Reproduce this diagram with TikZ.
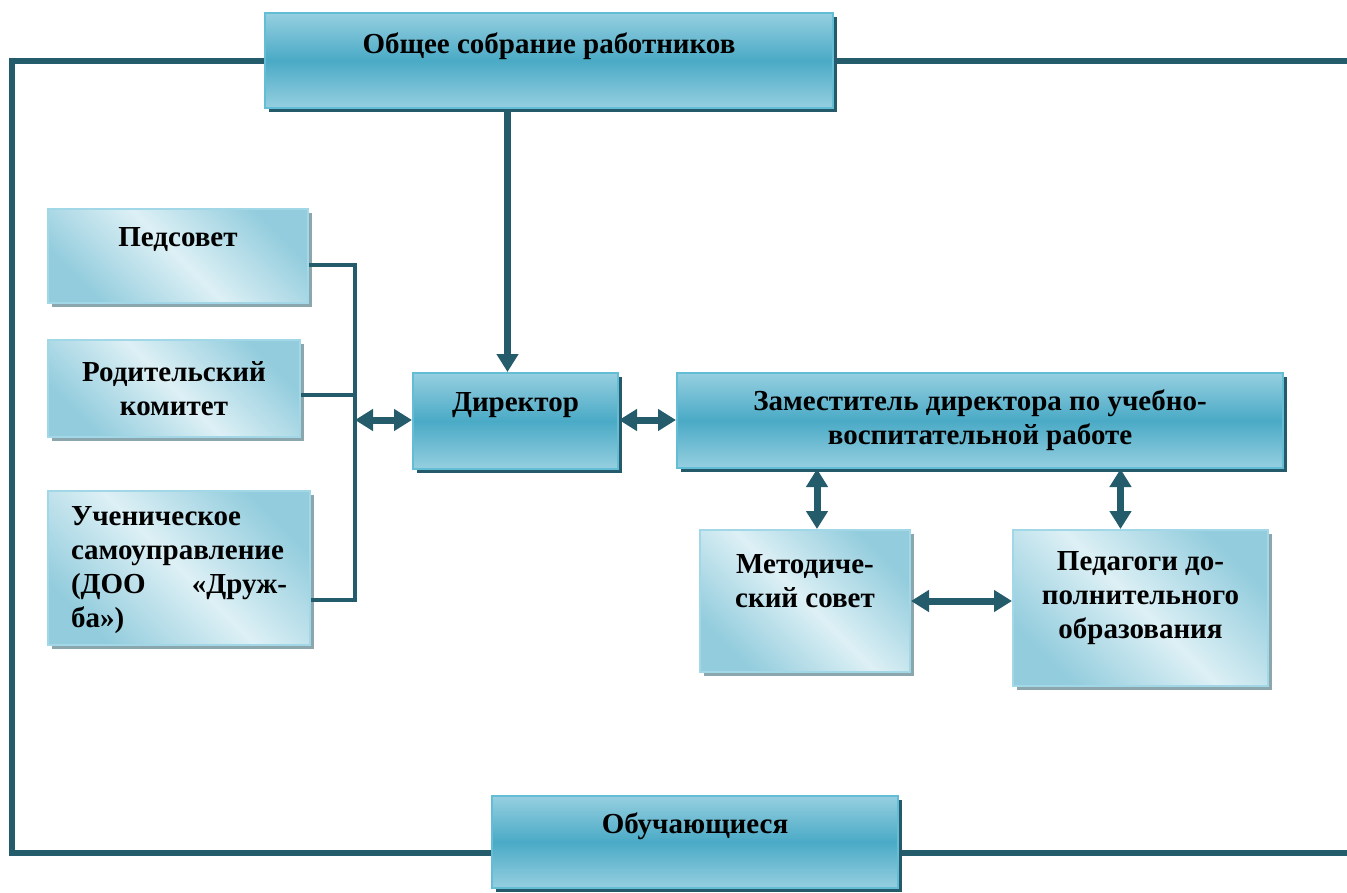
\documentclass[tikz,border=0pt]{standalone}
\usepackage{fontspec}
\setmainfont{Liberation Serif}
\usetikzlibrary{arrows.meta,positioning,shadows,calc}
\definecolor{lnk}{HTML}{245C6B}
\definecolor{dkA}{HTML}{96CFE0}
\definecolor{dkB}{HTML}{4AAAC6}
\definecolor{ltA}{HTML}{DDF0F5}
\definecolor{ltB}{HTML}{92CCDD}
\definecolor{rim}{HTML}{62BDD5}
\definecolor{shdk}{HTML}{245A6A}
\definecolor{shlt}{HTML}{8CA6AD}

\begin{document}
\begin{tikzpicture}[x=1pt,y=-1pt,>={Triangle[length=18pt,width=21pt]},
  dark/.style={draw=rim,line width=2pt,top color=dkA,bottom color=dkA,middle color=dkB,general shadow={fill=shdk,shadow xshift=4pt,shadow yshift=-4pt}},
  light/.style={draw=rim!60,line width=2pt,top color=ltB,bottom color=ltB,middle color=ltA,shading angle=-45,general shadow={fill=shlt,shadow xshift=4pt,shadow yshift=-4pt}},
  txt/.style={font=\fontsize{29}{34}\selectfont\bfseries,align=center,inner sep=0pt},
  frame/.style={draw=lnk,line width=6pt},
  link/.style={draw=lnk,line width=3.5pt},
  arr/.style={draw=lnk,line width=6.5pt,->},
  dbl/.style={draw=lnk,line width=7pt,<->}]
  \useasboundingbox (0,0) rectangle (1347,892);
  % outer frame
  \coordinate (fl) at (12,853);
  \coordinate (fr1) at (1347,60.5);
  \coordinate (fr2) at (1347,853);
  \node[dark,minimum width=568pt,minimum height=95pt] (sobr) at (549,60.5) {};
  \node[dark,minimum width=406pt,minimum height=92pt] (obu) at (695,842) {};
  \draw[frame] (sobr.west) -| (fl) -- ([yshift=-11pt]obu.west);
  \draw[frame] (sobr.east) -- (fr1);
  \draw[frame] ([yshift=-11pt]obu.east) -- (fr2);
  \node[dark,minimum width=568pt,minimum height=95pt] (sobr) at (549,60.5) {};
  \node[dark,minimum width=406pt,minimum height=92pt] (obu) at (695,842) {};
  \node[txt] (sobr-t) at ([yshift=14pt]sobr.center) {Общее собрание работников};
  \node[txt] (obu-t) at ([yshift=16pt]obu.center) {Обучающиеся};
  % left column
  \node[light,minimum width=260pt,minimum height=94pt] (peds) at (178,256) {};
  \node[light,minimum width=252pt,minimum height=97pt] (rod) at (174,388.5) {};
  \node[light,minimum width=262pt,minimum height=154pt] (uch) at (179,568) {};
  \node[txt] (peds-t) at ([yshift=16pt]peds.center) {Педсовет};
  \node[txt] (rod-t) at (rod.center) {Родительский\\комитет};
  \node[txt,align=left,text width=216pt] (uch-t) at ([yshift=-2pt]uch.center) {Ученическое\\самоуправление\\(ДОО \hfill «Друж-\\ба»)};
  % middle row
  \node[dark,minimum width=205pt,minimum height=96pt] (dir) at (515.5,421) {};
  \node[dark,minimum width=606pt,minimum height=95pt] (zam) at (980,420.5) {};
  \node[txt] (dir-t) at ([yshift=16pt]dir.center) {Директор};
  \node[txt] (zam-t) at (zam.center) {Заместитель директора по учебно-\\воспитательной работе};
  % lower right
  \node[light,minimum width=210pt,minimum height=142pt] (met) at (805,601) {};
  \node[light,minimum width=255pt,minimum height=156pt] (pdo) at (1140.5,608) {};
  \node[txt] (met-t) at ([yshift=20pt]met.center) {Методиче-\\ский совет};
  \node[txt] (pdo-t) at ([yshift=10pt]pdo.center) {Педагоги до-\\полнительного\\образования};
  % connectors
  \coordinate (bus) at (355,420);
  \coordinate (ds) at ([xshift=-8pt]dir.north);
  \coordinate (m1) at ([xshift=12pt]met.north);
  \coordinate (p1) at ([xshift=-20pt]pdo.north);
  \draw[arr] (sobr.south -| ds) -- (ds);
  \draw[link] ([yshift=-9pt]peds.east) -| (bus) |- ([yshift=-32pt]uch.east);
  \draw[link] ([yshift=-6.5pt]rod.east) -- ([yshift=-6.5pt]rod.east -| bus);
  \draw[dbl] (bus) -- (bus -| dir.west);
  \draw[dbl] (bus -| dir.east) -- (bus -| zam.west);
  \draw[dbl] (zam.south -| m1) -- (m1);
  \draw[dbl] (zam.south -| p1) -- (p1);
  \draw[dbl] (met.east) -- (met.east -| pdo.west);
\end{tikzpicture}
\end{document}
